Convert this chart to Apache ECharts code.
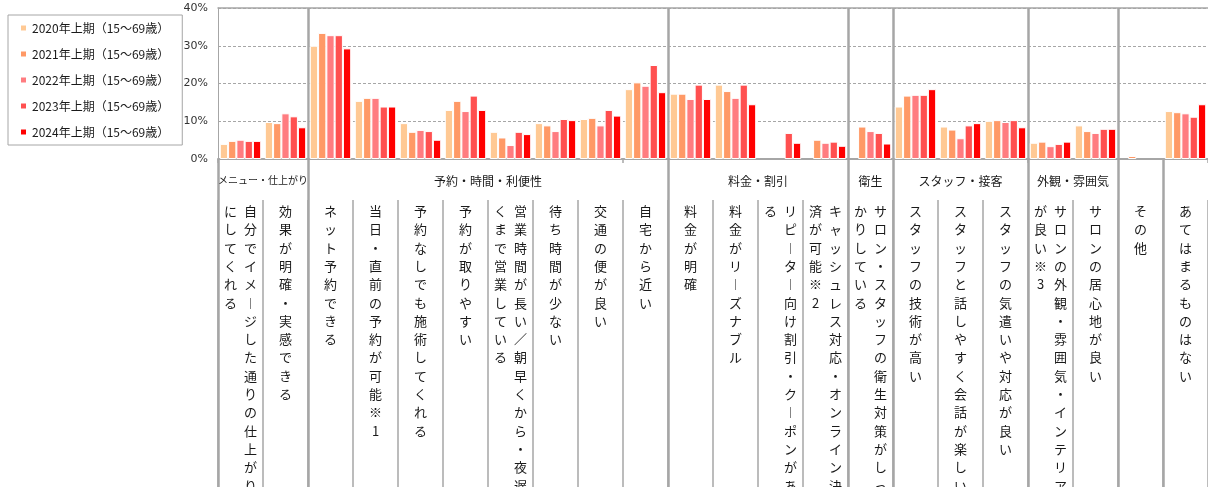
<!DOCTYPE html>
<html><head><meta charset="utf-8">
<script src="https://cdn.jsdelivr.net/npm/echarts@6/dist/echarts.min.js"></script>
<style>html,body{margin:0;padding:0;background:#fff;}#c{width:1208px;height:487px;}</style>
</head><body><div id="c"></div>
<script>
const categories = [
  '自分でイメージした通りの仕上がりにしてくれる',
  '効果が明確・実感できる',
  'ネット予約できる',
  '当日・直前の予約が可能※1',
  '予約なしでも施術してくれる',
  '予約が取りやすい',
  '営業時間が長い／朝早くから・夜遅くまで営業している',
  '待ち時間が少ない',
  '交通の便が良い',
  '自宅から近い',
  '料金が明確',
  '料金がリーズナブル',
  'リピーター向け割引・クーポンがある',
  'キャッシュレス対応・オンライン決済が可能※2',
  'サロン・スタッフの衛生対策がしっかりしている',
  'スタッフの技術が高い',
  'スタッフと話しやすく会話が楽しい',
  'スタッフの気遣いや対応が良い',
  'サロンの外観・雰囲気・インテリアが良い※3',
  'サロンの居心地が良い',
  'その他',
  'あてはまるものはない'
];
const groupNames = ['メニュー・仕上がり','予約・時間・利便性','料金・割引','衛生','スタッフ・接客','外観・雰囲気','',''];
const groupSizes = [2, 8, 4, 1, 3, 2, 1, 1];
const seriesNames = ['2020年上期（15～69歳）','2021年上期（15～69歳）','2022年上期（15～69歳）','2023年上期（15～69歳）','2024年上期（15～69歳）'];
const seriesColors = ['#FFC994','#FF9966','#FF7C80','#FF5050','#FF0000'];
const v2020 = [4.0, 9.8, 30.0, 15.4, 9.5, 13.0, 7.2, 9.5, 10.6, 18.5, 17.3, 19.7, null, null, null, 13.9, 8.6, 10.1, 4.3, 8.9, null, 12.7];
const v2021 = [4.8, 9.5, 33.4, 16.2, 7.2, 15.4, 5.7, 8.9, 10.9, 20.3, 17.3, 18.0, null, 5.1, 8.6, 16.8, 7.8, 10.3, 4.6, 7.4, 0.8, 12.4];
const v2022 = [5.1, 12.1, 32.8, 16.2, 7.7, 12.7, 3.7, 7.4, 8.9, 19.4, 15.9, 16.2, null, 4.3, 7.4, 17.0, 5.5, 9.8, 3.4, 6.9, null, 12.1];
const v2023 = [4.8, 11.3, 32.8, 13.9, 7.4, 16.8, 7.2, 10.6, 13.0, 24.9, 19.7, 19.7, 6.9, 4.6, 6.9, 17.0, 8.9, 10.3, 4.0, 8.0, null, 11.2];
const v2024 = [4.8, 8.4, 29.3, 13.9, 5.1, 13.0, 6.6, 10.3, 11.5, 17.7, 15.9, 14.5, 4.3, 3.5, 4.1, 18.5, 9.5, 8.4, 4.6, 8.0, null, 14.5];
const yMin = 0, yMax = 40, yStep = 10;

const allValues = [v2020, v2021, v2022, v2023, v2024];
const N = categories.length;
const bounds = [0];
groupSizes.forEach(s => bounds.push(bounds[bounds.length - 1] + s));
const centers = groupSizes.map((s, i) => bounds[i] + s / 2);
const lowerBounds = bounds.slice(0, bounds.length - 1);
const plotBounds = bounds.slice(1, groupSizes.length - 1);

const CJK = '"Noto Sans CJK JP", sans-serif';
function vert(s) {
  const chars = Array.from(s).map(c => c === 'ー' ? '︱' : c);
  const cols = [];
  for (let i = 0; i < chars.length; i += 16) cols.push(chars.slice(i, i + 16));
  const lines = [];
  for (let i = 0; i < cols[0].length; i++) {
    let line = '';
    for (let k = cols.length - 1; k >= 0; k--) line += '{c|' + (cols[k][i] || '　') + '}';
    lines.push(line);
  }
  return lines.join('\n');
}

const chart = echarts.init(document.getElementById('c'), null, {renderer: 'canvas'});
const gray = '#a6a6a6';
const GL = 12; // group label font size
const catW = 990 / N;
chart.setOption({
  animation: false,
  backgroundColor: '#fff',
  textStyle: {fontFamily: CJK},
  legend: {
    data: seriesNames, orient: 'vertical', left: 8, top: 15,
    itemWidth: 7, itemHeight: 7, itemGap: 14, icon: 'rect',
    borderColor: gray, borderWidth: 1, padding: [7, 13, 7, 11],
    textStyle: {fontSize: 12, color: '#1a1a1a', fontFamily: CJK}
  },
  grid: {left: 218, right: 0, top: 8, bottom: 328, containLabel: false, outerBoundsMode: 'none'},
  xAxis: [
    {type: 'category', data: categories, position: 'bottom',
     axisLine: {onZero: false, lineStyle: {color: gray, width: 2}},
     axisTick: {show: true, length: 4, lineStyle: {color: gray, width: 1.5}},
     axisLabel: {show: false}},
    {type: 'value', min: 0, max: N, position: 'bottom',
     axisLine: {show: false, onZero: false}, splitLine: {show: false},
     axisTick: {show: true, customValues: lowerBounds, length: 330, lineStyle: {color: gray, width: 2.5}},
     axisLabel: {customValues: centers, margin: 16, color: '#1a1a1a', fontSize: GL, fontFamily: CJK,
       formatter: v => {
         const i = centers.indexOf(v);
         if (i < 0) return '';
         const n = groupNames[i];
         return (n.length * GL > groupSizes[i] * catW - 4) ? '{s|' + n + '}' : n;
       },
       rich: {s: {fontSize: 10, fontFamily: CJK, color: '#1a1a1a'}}}},
    {type: 'value', min: 0, max: N, position: 'top',
     axisLine: {show: true, onZero: false, lineStyle: {color: gray, width: 1.5}}, splitLine: {show: false},
     axisTick: {show: true, customValues: plotBounds, inside: true, length: 151, lineStyle: {color: gray, width: 2.5}},
     axisLabel: {show: false}},
    {type: 'category', data: categories, position: 'bottom', offset: 41,
     axisLine: {show: false, onZero: false},
     axisTick: {show: true, interval: 0, length: 290, lineStyle: {color: gray, width: 1.5}},
     axisLabel: {interval: 0, margin: 2, formatter: vert, verticalAlign: 'top',
       rich: {c: {width: 20, align: 'center', fontSize: 13, lineHeight: 18.3, color: '#1a1a1a', fontFamily: CJK}}}}
  ],
  yAxis: {
    type: 'value', min: yMin, max: yMax, interval: yStep,
    axisLine: {show: true, lineStyle: {color: gray, width: 1}},
    axisTick: {show: false},
    axisLabel: {formatter: '{value}%', fontSize: 11, color: '#333', margin: 10, fontFamily: '"DejaVu Sans", sans-serif'},
    splitLine: {show: true, lineStyle: {type: [3, 2], color: gray, width: 1}}
  },
  series: seriesNames.map((name, i) => ({
    name, type: 'bar', xAxisIndex: 0, yAxisIndex: 0, data: allValues[i],
    barGap: '0%', barCategoryGap: '8%',
    itemStyle: {color: seriesColors[i], borderColor: '#fff', borderWidth: 1}
  }))
});
</script>
</body></html>
